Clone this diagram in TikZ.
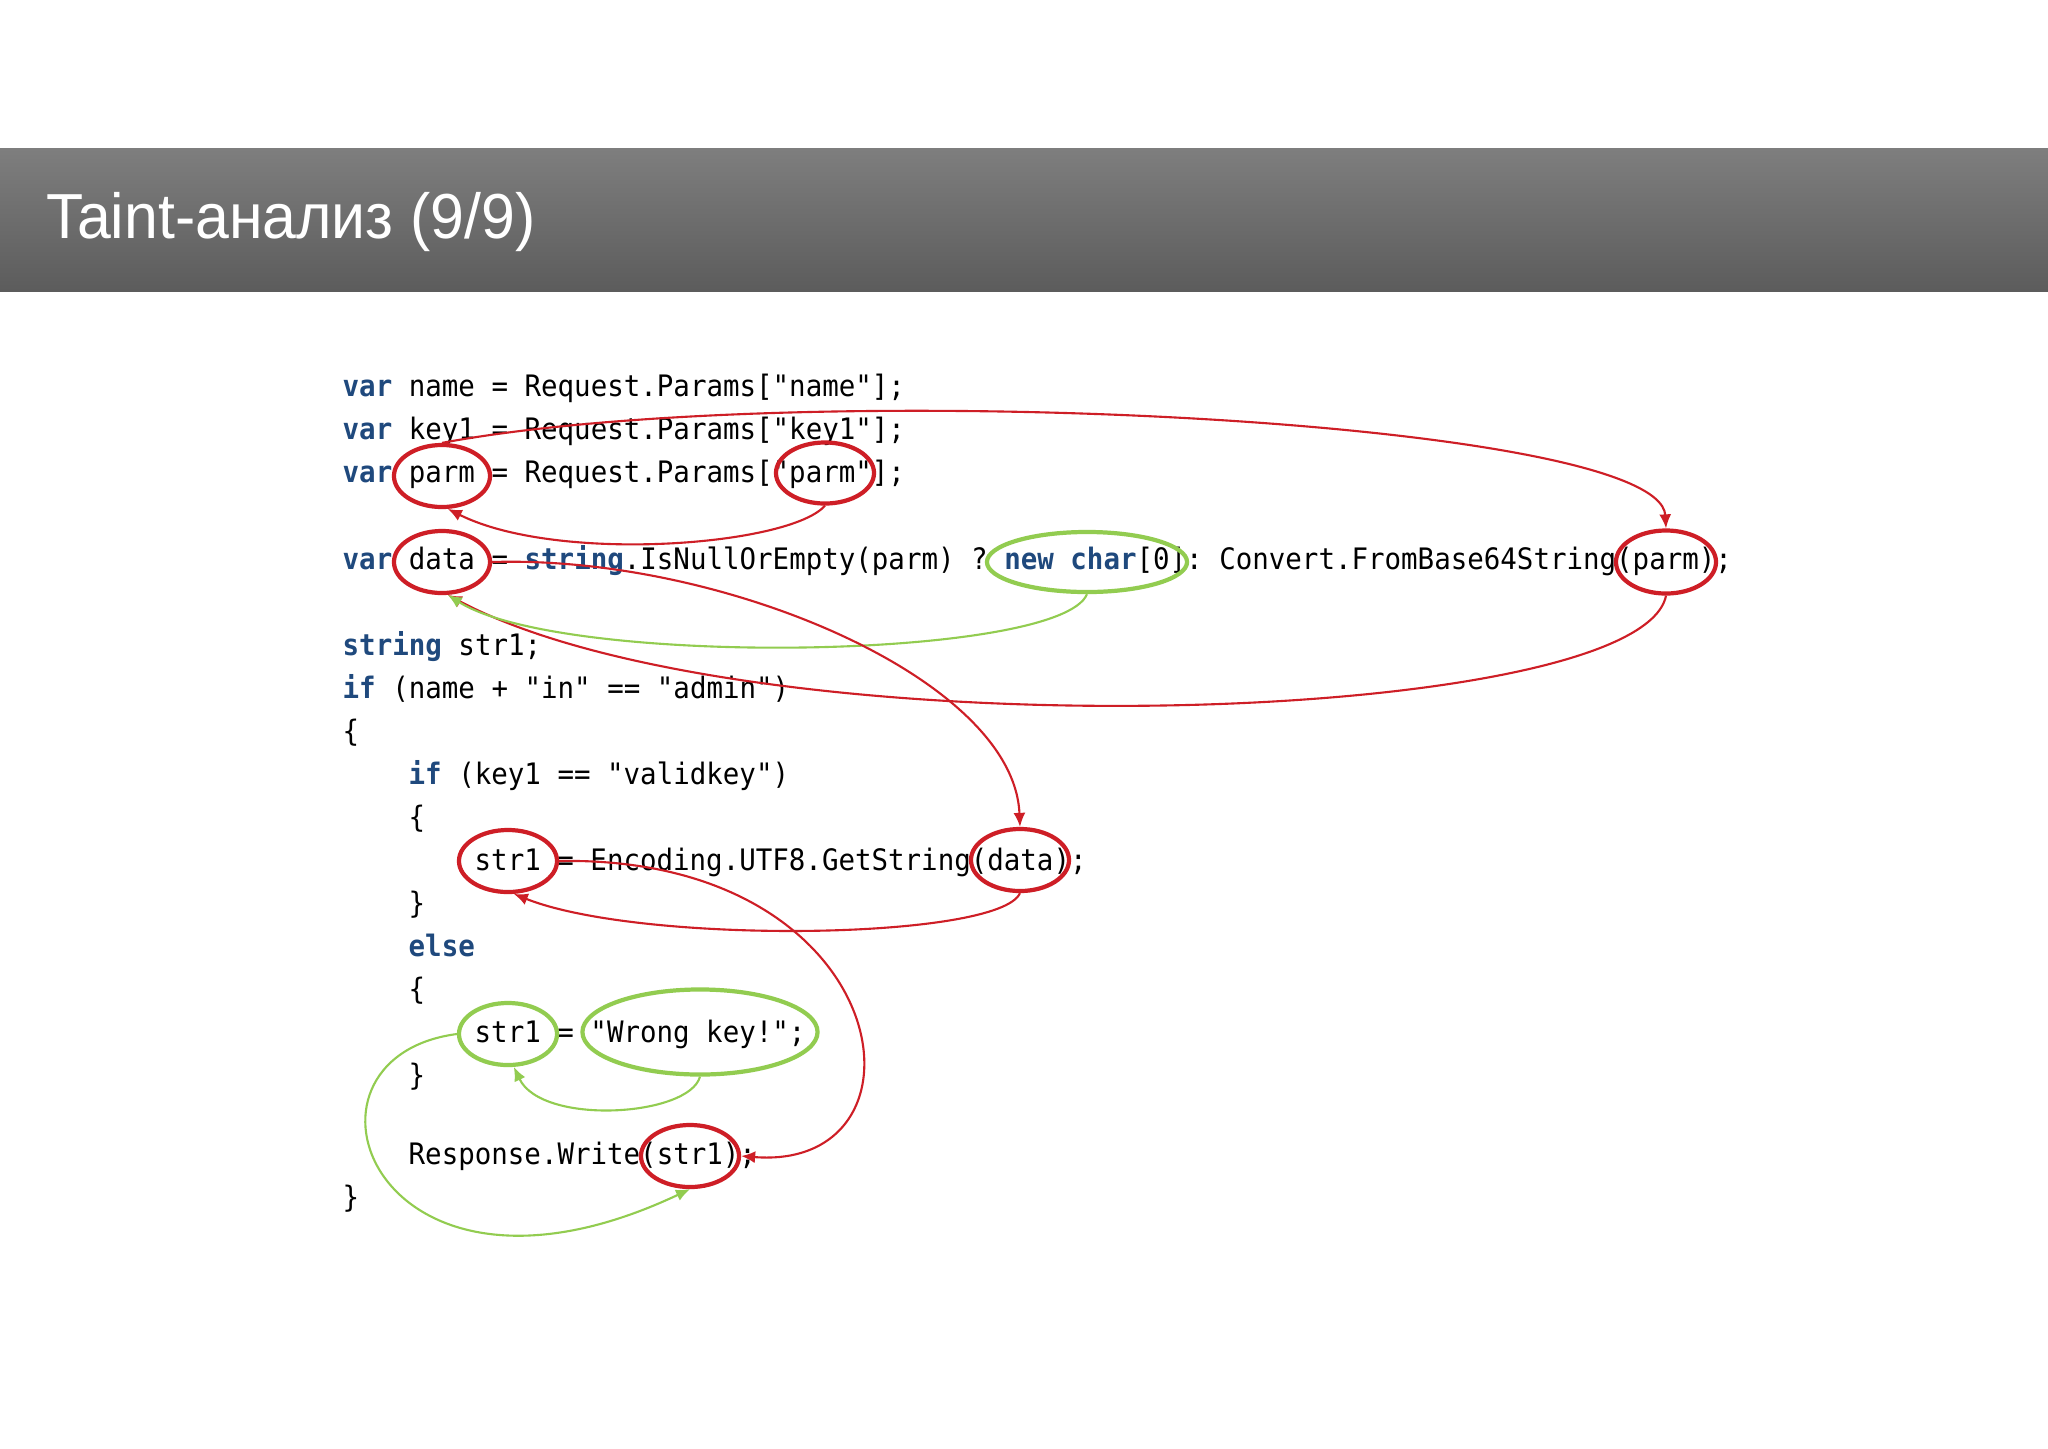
\documentclass[tikz,border=0pt]{standalone}
\usepackage{fontspec}
\usepackage{tikz}
\usetikzlibrary{shapes.geometric,arrows.meta}

\newfontfamily\codefont[FakeStretch=0.93]{DejaVu Sans Mono}
\newfontfamily\titlefont[FakeStretch=0.955]{Liberation Sans}
\definecolor{kwblue}{RGB}{31,73,125}
\definecolor{taintred}{RGB}{206,30,38}
\definecolor{cleangreen}{RGB}{146,204,80}
\newcommand{\kw}[1]{{\color{kwblue}\bfseries #1}}
\frenchspacing

\begin{document}
\begin{tikzpicture}[x=0.01cm,y=-0.01cm,
    codeline/.style={anchor=base west,inner sep=0pt,font=\codefont\fontsize{8.4pt}{10pt}\selectfont},
    taint/.style={ellipse,draw=taintred,line width=1.2pt,inner sep=0pt},
    clean/.style={ellipse,draw=cleangreen,line width=1.2pt,inner sep=0pt},
    redflow/.style={draw=taintred,line width=0.6pt,-{Latex[length=1.4mm,width=1.2mm]}},
    greenflow/.style={draw=cleangreen,line width=0.6pt,-{Latex[length=1.4mm,width=1.2mm]}}]
        \useasboundingbox (0,0) rectangle (2048,1448);
        \fill[white] (0,0) rectangle (2048,1448);

        % Title bar
        \fill[top color={rgb,255:red,126;green,126;blue,126},bottom color={rgb,255:red,92;green,92;blue,92}] (0,148) rectangle (2048,291);
        \node[anchor=base west,inner sep=0pt,text=white,font=\titlefont\fontsize{18.1pt}{20pt}\selectfont] (title) at (46,238) {Taint-анализ (9/9)};

        % Code lines
        \node[codeline] (l1) at (342,396) {\kw{var} name = Request.Params["name"];};
        \node[codeline] (l2) at (342,439) {\kw{var} key1 = Request.Params["key1"];};
        \node[codeline] (l3) at (342,482) {\kw{var} parm = Request.Params["parm"];};
        \node[codeline] (l4) at (342,569) {\kw{var} data = \kw{string}.IsNullOrEmpty(parm) ? \kw{new char}[0]: Convert.FromBase64String(parm);};
        \node[codeline] (l5) at (342,655) {\kw{string} str1;};
        \node[codeline] (l6) at (342,698) {\kw{if} (name + "in" == "admin")};
        \node[codeline] (l7) at (342,741) {\{};
        \node[codeline] (l8) at (408,784) {\kw{if} (key1 == "validkey")};
        \node[codeline] (l9) at (408,827) {\{};
        \node[codeline] (l10) at (474,870) {str1 = Encoding.UTF8.GetString(data);};
        \node[codeline] (l11) at (408,913) {\}};
        \node[codeline] (l12) at (408,956) {\kw{else}};
        \node[codeline] (l13) at (408,999) {\{};
        \node[codeline] (l14) at (474,1042) {str1 = "Wrong key!";};
        \node[codeline] (l15) at (408,1085) {\}};
        \node[codeline] (l16) at (408,1164) {Response.Write(str1);};
        \node[codeline] (l17) at (342,1207) {\}};

        % Mark the values
        \node[taint,minimum width=0.96cm,minimum height=0.62cm] (parmvar) at (442,476) {};
        \node[taint,minimum width=0.98cm,minimum height=0.61cm] (parmkey) at (825,473) {};
        \node[taint,minimum width=0.96cm,minimum height=0.62cm] (datavar) at (442,562) {};
        \node[clean,minimum width=2.00cm,minimum height=0.60cm] (emptychar) at (1087,562) {};
        \node[taint,minimum width=1.00cm,minimum height=0.63cm] (b64arg) at (1666,562) {};
        \node[taint,minimum width=0.98cm,minimum height=0.62cm] (decoded) at (508,861) {};
        \node[taint,minimum width=0.98cm,minimum height=0.62cm] (decarg) at (1020,860) {};
        \node[clean,minimum width=0.98cm,minimum height=0.62cm] (strbad) at (508,1034) {};
        \node[clean,minimum width=2.35cm,minimum height=0.85cm] (wrongkey) at (700,1032) {};
        \node[taint,minimum width=0.98cm,minimum height=0.62cm] (outarg) at (690,1156) {};

        % Data flow
        \draw[redflow] (parmkey.south) .. controls +(-35,40) and +(110,55) .. (parmvar.-80);
        \draw[redflow] (parmvar.north) .. controls +(355,-66) and +(-6,-110) .. (b64arg.north);
        \draw[redflow] (b64arg.south) .. controls +(-26,132) and +(300,160) .. (datavar.-80);
        \draw[greenflow] (emptychar.south) .. controls +(-27,66) and +(115,73) .. (datavar.-80);
        \draw[redflow] (datavar.east) .. controls +(230,-7) and +(-6,-148) .. (decarg.north);
        \draw[redflow] (decarg.south) .. controls +(-21,47) and +(128,51) .. (decoded.-80);
        \draw[redflow] (decoded.east) .. controls +(340,-6) and +(200,16) .. (outarg.east);
        \draw[greenflow] (wrongkey.south) .. controls +(-11,40) and +(28,59) .. (strbad.-80);
        \draw[greenflow] (strbad.west) .. controls +(-182,24) and +(-318,150) .. (outarg.south);
\end{tikzpicture}
\end{document}
